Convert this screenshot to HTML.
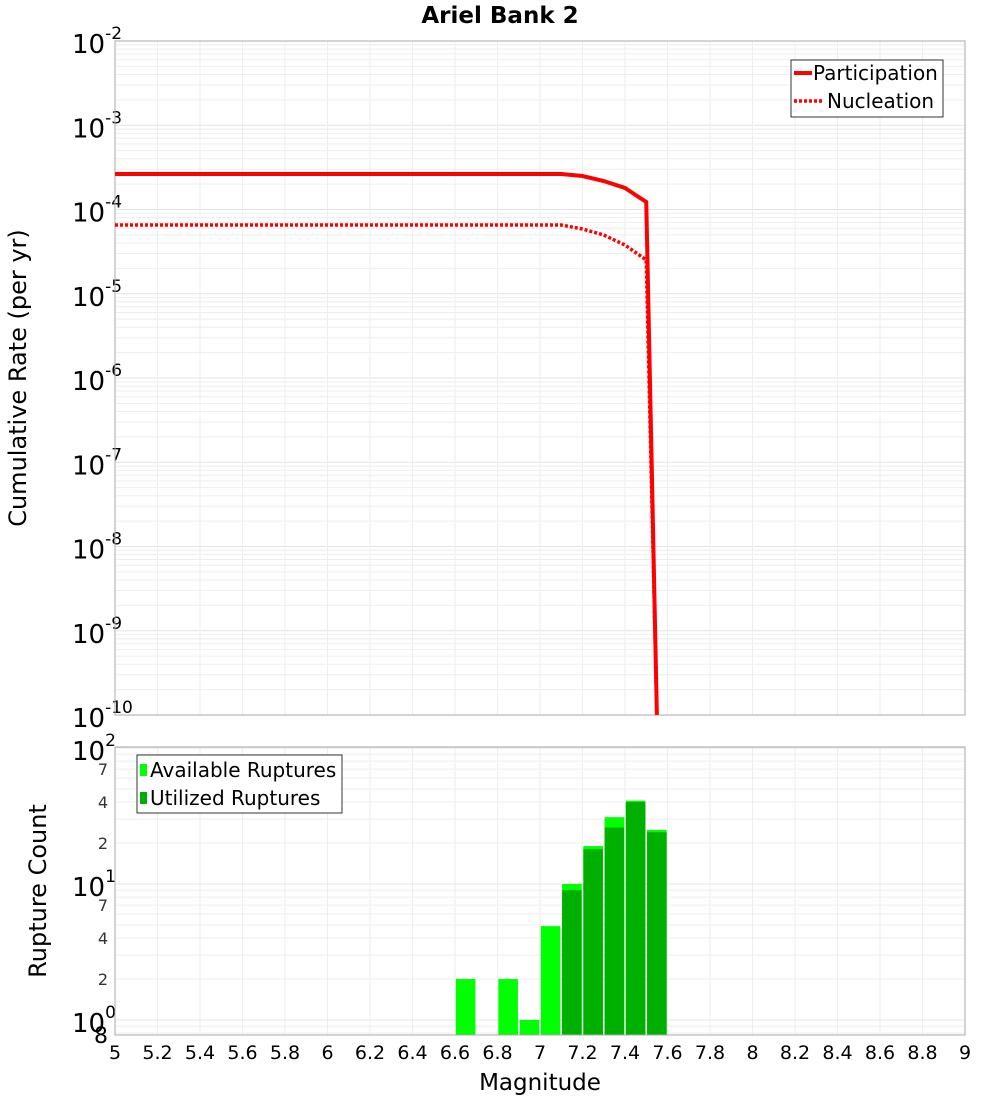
<!DOCTYPE html>
<html><head><meta charset="utf-8"><style>
body{margin:0;background:#fff;}
svg{display:block;font-family:"DejaVu Sans","Liberation Sans",sans-serif;}
</style></head><body>
<svg id="s" width="1000" height="1100" viewBox="0 0 1000 1100" xmlns="http://www.w3.org/2000/svg"></svg>
<script>
const s=document.getElementById('s');let h='';
const X=m=>115+(m-5)*212.5;
const T0=41,T1=715,dec=84.25;
const yT=l=>T0+(-2-l)*dec;
h+='<rect x="115" y="41" width="850" height="674" fill="#fff"/>';
for(let d=-10;d<-2;d++)for(let k=2;k<=9;k++){const y=yT(d+Math.log10(k));h+=`<line x1="115" x2="965" y1="${y}" y2="${y}" stroke="#eee" stroke-width="1"/>`;}
for(let d=-10;d<=-2;d++){const y=yT(d);h+=`<line x1="115" x2="965" y1="${y}" y2="${y}" stroke="#e4e4e4"/>`;
h+=`<text x="${d==-10?72:72}" y="${y+12}" font-size="26">10<tspan dy="-14" font-size="17">${d}</tspan></text>`;}
const B0=747,B1=1035,bd=136;const yB=l=>1020-l*bd;
for(let m=5;m<=9.001;m+=0.2){const x=X(m);h+=`<line x1="${x}" x2="${x}" y1="41" y2="715" stroke="#eee"/><line x1="${x}" x2="${x}" y1="747" y2="1035" stroke="#eee"/>`;
let lab=(Math.round(m*10)/10).toString();h+=`<text x="${x}" y="1059" font-size="19" text-anchor="middle">${lab}</text>`;}
for(let d=-1;d<2;d++)for(let k=2;k<=9;k++){const y=yB(d+Math.log10(k));if(y>B0&&y<B1)h+=`<line x1="115" x2="965" y1="${y}" y2="${y}" stroke="#eee"/>`;}
[0,1,2].forEach(d=>{const y=yB(d);h+=`<line x1="115" x2="965" y1="${y}" y2="${y}" stroke="#e4e4e4"/>`;
h+=`<text x="72" y="${y+12}" font-size="26">10<tspan dy="-14" font-size="17">${d}</tspan></text>`;});
[[2,0],[4,0],[7,0],[2,1],[4,1],[7,1]].forEach(([k,d])=>{const y=yB(d+Math.log10(k));h+=`<text x="108" y="${y+6}" font-size="16" text-anchor="end" fill="#333">${k}</text>`;});
h+=`<text x="108" y="1043" font-size="22" text-anchor="end">8</text>`;
const av=[[6.65,2],[6.85,2],[6.95,1],[7.05,4.9],[7.15,10],[7.25,19],[7.35,31],[7.45,41],[7.55,25]];
const ut=[[7.15,9],[7.25,18],[7.35,26],[7.45,40],[7.55,24]];
av.forEach(([m,v])=>{const y=yB(Math.log10(v));h+=`<rect x="${X(m)-9.8}" y="${y}" width="19.6" height="${1035-y}" fill="#00ff00"/>`;});
ut.forEach(([m,v])=>{const y=yB(Math.log10(v));h+=`<rect x="${X(m)-9.8}" y="${y}" width="19.6" height="${1035-y}" fill="#00b000"/>`;});
h+='<rect x="115" y="41" width="850" height="674" fill="none" stroke="#aaa"/><rect x="115" y="747" width="850" height="288" fill="none" stroke="#aaa"/>';
const P=[[5,174],[7.1,174],[7.2,176],[7.3,181],[7.4,188],[7.5,202],[7.55,715]];
const N=[[5,225],[7.1,225],[7.2,229],[7.3,235],[7.4,245],[7.5,260],[7.55,715]];
h+=`<polyline points="${P.map(p=>X(p[0])+','+p[1]).join(' ')}" fill="none" stroke="#f00" stroke-width="4"/>`;
h+=`<polyline points="${N.map(p=>X(p[0])+','+p[1]).join(' ')}" fill="none" stroke="#f00" stroke-width="3.5" stroke-dasharray="3,2"/>`;
h+='<rect x="791" y="60" width="152" height="57" fill="#fff" stroke="#333"/><line x1="794" x2="812" y1="73" y2="73" stroke="#f00" stroke-width="4"/><line x1="794" x2="822" y1="101" y2="101" stroke="#f00" stroke-width="3.5" stroke-dasharray="3,2"/>';
h+='<text x="813" y="80" font-size="20">Participation</text><text x="827" y="108" font-size="20">Nucleation</text>';
h+='<rect x="137" y="755" width="205" height="58" fill="#fff" stroke="#333"/><rect x="140" y="764" width="7" height="12" fill="#00ff00"/><rect x="140" y="792" width="7" height="12" fill="#00b000"/>';
h+='<text x="150" y="777" font-size="20">Available Ruptures</text><text x="150" y="805" font-size="20">Utilized Ruptures</text>';
h+='<text x="500" y="23" font-size="23" font-weight="bold" text-anchor="middle">Ariel Bank 2</text>';
h+='<text x="540" y="1090" font-size="23" text-anchor="middle">Magnitude</text>';
h+='<text transform="translate(26,378) rotate(-90)" font-size="24" text-anchor="middle">Cumulative Rate (per yr)</text>';
h+='<text transform="translate(46,891) rotate(-90)" font-size="24" text-anchor="middle">Rupture Count</text>';
s.innerHTML=h;
</script>
</body></html>
